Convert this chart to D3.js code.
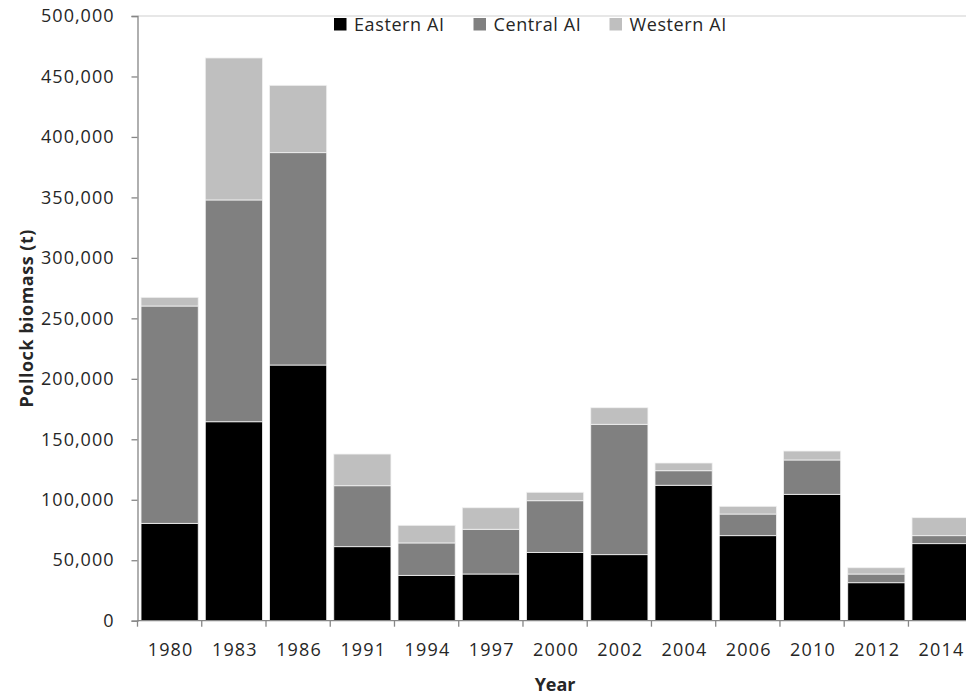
<!DOCTYPE html>
<html>
<head>
<meta charset="utf-8">
<script src="https://cdn.jsdelivr.net/npm/d3@7"></script>
<style>
  html, body { margin: 0; padding: 0; background: #fff; }
  svg { display: block; }
  text { font-family: "Open Sans", "Noto Sans", sans-serif; fill: #262626; }
</style>
</head>
<body>
<svg id="chart" width="966" height="696"></svg>
<script>
const years = ["1980","1983","1986","1991","1994","1997","2000","2002","2004","2006","2010","2012","2014"];
const eastern = [80500,164500,211400,61200,37500,38600,56500,54600,112000,70300,104500,31400,63700];
const central = [179700,183400,175600,50400,26800,37000,42700,107800,12000,17900,28400,7200,6600];
const western = [7200,117400,55700,26200,14600,17800,7000,13700,6400,6400,7400,5200,14900];
const seriesNames = ["Eastern AI","Central AI","Western AI"];
const seriesColors = ["#000000","#808080","#bfbfbf"];
const yTicks = [0,50000,100000,150000,200000,250000,300000,350000,400000,450000,500000];

(function () {
const rows = years.map((y, i) => ({year: y, "Eastern AI": eastern[i], "Central AI": central[i], "Western AI": western[i]}));
const stacked = d3.stack().keys(seriesNames)(rows);

const svg = d3.select("#chart");
const mLeft = 137.5, mRight = 972.7, mTop = 16, mBottom = 620.7;
const fontFam = "'Open Sans', sans-serif";

const x = d3.scaleBand().domain(years).range([mLeft, mRight]).paddingInner(0.11).paddingOuter(0.055);
const y = d3.scaleLinear().domain([0, 500000]).range([mBottom, mTop]);
const color = d3.scaleOrdinal().domain(seriesNames).range(seriesColors);

// top border line
svg.append("line").attr("x1", mLeft).attr("x2", 966).attr("y1", y(500000)).attr("y2", y(500000))
  .attr("stroke", "#cfcfcf").attr("stroke-width", 1.2);

// bars
svg.append("g").selectAll("g").data(stacked).join("g")
  .attr("fill", d => color(d.key))
  .selectAll("rect").data(d => d).join("rect")
  .attr("x", d => x(d.data.year))
  .attr("width", x.bandwidth())
  .attr("y", d => y(d[1]))
  .attr("height", d => y(d[0]) - y(d[1]))
  .attr("stroke", "#f2f2f2").attr("stroke-width", 0.8);

// y axis
const yAxis = svg.append("g").attr("transform", `translate(${mLeft},0)`)
  .call(d3.axisLeft(y).tickValues(yTicks).tickSize(6).tickPadding(17).tickFormat(d3.format(",")));
yAxis.select(".domain").attr("stroke", "#868686").attr("stroke-width", 1.3);
yAxis.selectAll(".tick line").attr("stroke", "#868686").attr("stroke-width", 1.3);
yAxis.selectAll(".tick text").attr("font-size", 18).attr("letter-spacing", 1)
  .style("font-family", fontFam).attr("fill", "#262626");

// x axis
const step = x.step();
const xAxis = svg.append("g").attr("transform", `translate(0,${mBottom})`)
  .call(d3.axisBottom(x).tickSize(0).tickPadding(23));
xAxis.select(".domain").remove();
xAxis.selectAll(".tick text").attr("font-size", 18).attr("letter-spacing", 1.2)
  .attr("dx", 1).attr("fill", "#262626").style("font-family", fontFam);
svg.append("line").attr("x1", mLeft).attr("x2", 966).attr("y1", mBottom).attr("y2", mBottom)
  .attr("stroke", "#868686").attr("stroke-width", 1.3);
svg.append("g").selectAll("line").data(years).join("line")
  .attr("x1", d => x(d) - step * x.paddingInner() / 2)
  .attr("x2", d => x(d) - step * x.paddingInner() / 2)
  .attr("y1", mBottom).attr("y2", mBottom + 6)
  .attr("stroke", "#868686").attr("stroke-width", 1.3);

// axis titles
svg.append("text").attr("x", (mLeft + mRight) / 2).attr("y", 691)
  .attr("text-anchor", "middle").attr("font-size", 18).attr("font-weight", "bold").text("Year");
svg.append("text").attr("transform", `translate(33,${(mTop + mBottom) / 2}) rotate(-90)`)
  .attr("text-anchor", "middle").attr("font-size", 18).attr("letter-spacing", 0.5)
  .attr("font-weight", "bold").text("Pollock biomass (t)");

// legend
const legendX = [334, 473.5, 609.5];
const legend = svg.append("g").selectAll("g").data(seriesNames).join("g")
  .attr("transform", (d, i) => `translate(${legendX[i]},18)`);
legend.append("rect").attr("width", 12.5).attr("height", 12.5).attr("fill", d => color(d));
legend.append("text").attr("x", 20).attr("y", 6.5).attr("dy", "0.35em")
  .attr("font-size", 18).attr("letter-spacing", 0.6).text(d => d);
})();
</script>
</body>
</html>
